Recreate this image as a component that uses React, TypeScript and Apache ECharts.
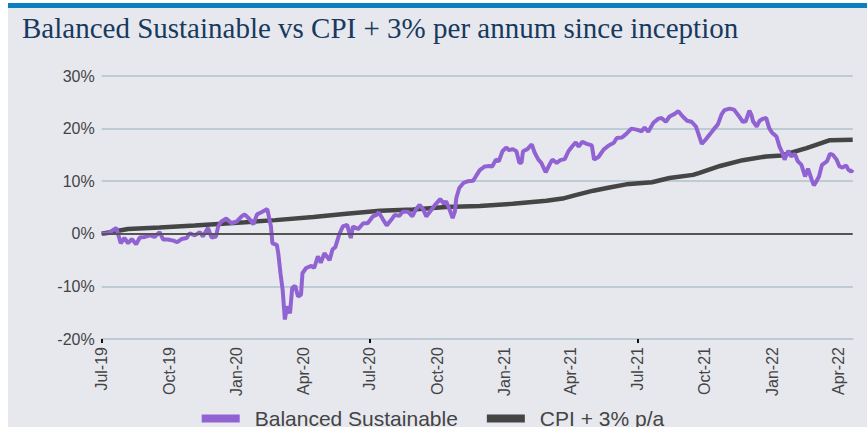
import React, { useEffect, useRef } from "react";
import * as echarts from "echarts";

const seriesNames = ["Balanced Sustainable", "CPI + 3% p/a"];

const tickDates = [
  "2019-07-01", "2019-10-01", "2020-01-01", "2020-04-01", "2020-07-01", "2020-10-01",
  "2021-01-01", "2021-04-01", "2021-07-01", "2021-10-01", "2022-01-01", "2022-04-01",
];
const tickLabels = [
  "Jul-19", "Oct-19", "Jan-20", "Apr-20", "Jul-20", "Oct-20",
  "Jan-21", "Apr-21", "Jul-21", "Oct-21", "Jan-22", "Apr-22",
];
const majorTickDates = ["2019-07-01", "2020-07-01", "2021-07-01"];

const balanced: [string, number][] = [
  ["2019-07-01", 0.0], ["2019-07-10", 0.1], ["2019-07-21", 1.1], ["2019-07-27", -1.8], ["2019-08-01", -0.8],
  ["2019-08-06", -1.8], ["2019-08-11", -1.0], ["2019-08-17", -2.0], ["2019-08-22", -0.7], ["2019-08-29", -0.6],
  ["2019-09-05", -0.3], ["2019-09-11", -0.6], ["2019-09-18", 0.3], ["2019-09-23", -1.1], ["2019-09-29", -1.1],
  ["2019-10-07", -1.3], ["2019-10-12", -1.6], ["2019-10-18", -1.0], ["2019-10-25", -0.8], ["2019-10-29", 0.1],
  ["2019-11-05", -0.3], ["2019-11-12", 0.3], ["2019-11-16", -0.5], ["2019-11-23", 1.1], ["2019-11-28", -0.7],
  ["2019-12-04", -0.5], ["2019-12-07", 1.4], ["2019-12-11", 2.3], ["2019-12-18", 2.9], ["2019-12-25", 2.0],
  ["2020-01-01", 2.3], ["2020-01-08", 3.3], ["2020-01-12", 3.7], ["2020-01-18", 2.9], ["2020-01-24", 1.8],
  ["2020-01-29", 3.7], ["2020-02-04", 4.1], ["2020-02-12", 4.7], ["2020-02-17", 1.4], ["2020-02-19", -1.8],
  ["2020-02-25", -2.1], ["2020-02-27", -3.7], ["2020-03-01", -7.5], ["2020-03-04", -10.7], ["2020-03-07", -16.3],
  ["2020-03-10", -13.8], ["2020-03-14", -15.1], ["2020-03-17", -10.3], ["2020-03-21", -9.9], ["2020-03-25", -11.9],
  ["2020-03-29", -11.6], ["2020-03-31", -7.5], ["2020-04-05", -6.5], ["2020-04-12", -6.1], ["2020-04-16", -6.5],
  ["2020-04-21", -4.3], ["2020-04-25", -5.5], ["2020-04-30", -3.7], ["2020-05-07", -5.0], ["2020-05-11", -3.0],
  ["2020-05-15", -2.5], ["2020-05-20", -0.2], ["2020-05-25", 1.4], ["2020-05-31", 1.7], ["2020-06-05", -0.8],
  ["2020-06-08", 1.4], ["2020-06-15", 0.9], ["2020-06-22", 2.0], ["2020-06-28", 2.0], ["2020-07-05", 3.3],
  ["2020-07-10", 3.6], ["2020-07-13", 4.1], ["2020-07-19", 2.7], ["2020-07-24", 1.6], ["2020-07-31", 2.8],
  ["2020-08-04", 3.6], ["2020-08-10", 3.4], ["2020-08-15", 4.2], ["2020-08-22", 4.2], ["2020-08-28", 3.3],
  ["2020-09-02", 4.7], ["2020-09-07", 5.5], ["2020-09-12", 4.6], ["2020-09-16", 3.3], ["2020-09-21", 4.2],
  ["2020-09-28", 5.5], ["2020-10-05", 6.6], ["2020-10-10", 5.7], ["2020-10-13", 6.2], ["2020-10-17", 4.9],
  ["2020-10-22", 3.0], ["2020-10-25", 4.2], ["2020-10-27", 6.8], ["2020-10-31", 8.7], ["2020-11-06", 9.7],
  ["2020-11-12", 10.0], ["2020-11-19", 10.1], ["2020-11-23", 11.0], ["2020-11-28", 12.1], ["2020-12-05", 12.8],
  ["2020-12-11", 12.9], ["2020-12-15", 12.8], ["2020-12-20", 14.1], ["2020-12-24", 13.8], ["2020-12-29", 15.7],
  ["2021-01-03", 16.4], ["2021-01-07", 15.9], ["2021-01-12", 16.1], ["2021-01-17", 15.7], ["2021-01-21", 13.5],
  ["2021-01-24", 13.5], ["2021-01-26", 15.7], ["2021-02-01", 16.1], ["2021-02-07", 17.0], ["2021-02-11", 15.4],
  ["2021-02-16", 14.1], ["2021-02-20", 13.5], ["2021-02-26", 11.7], ["2021-03-03", 13.1], ["2021-03-07", 14.1],
  ["2021-03-13", 13.5], ["2021-03-18", 14.0], ["2021-03-24", 14.2], ["2021-03-29", 15.7], ["2021-04-03", 16.6],
  ["2021-04-08", 17.4], ["2021-04-12", 16.6], ["2021-04-17", 17.5], ["2021-04-23", 17.1], ["2021-04-30", 16.8],
  ["2021-05-03", 14.1], ["2021-05-09", 14.6], ["2021-05-16", 16.0], ["2021-05-23", 16.8], ["2021-05-30", 17.3],
  ["2021-06-03", 18.2], ["2021-06-10", 18.3], ["2021-06-16", 19.0], ["2021-06-23", 20.0], ["2021-06-30", 19.8],
  ["2021-07-07", 19.5], ["2021-07-11", 20.2], ["2021-07-16", 19.4], ["2021-07-23", 21.1], ["2021-07-30", 21.9],
  ["2021-08-03", 22.0], ["2021-08-09", 21.3], ["2021-08-14", 22.3], ["2021-08-21", 22.8], ["2021-08-26", 23.3],
  ["2021-09-01", 22.3], ["2021-09-07", 21.5], ["2021-09-13", 21.3], ["2021-09-19", 20.4], ["2021-09-22", 19.2],
  ["2021-09-27", 17.1], ["2021-10-01", 17.7], ["2021-10-08", 18.9], ["2021-10-13", 19.8], ["2021-10-19", 20.8],
  ["2021-10-24", 22.7], ["2021-10-28", 23.5], ["2021-11-04", 23.8], ["2021-11-10", 23.6], ["2021-11-16", 22.5],
  ["2021-11-22", 21.3], ["2021-11-26", 21.4], ["2021-12-01", 23.4], ["2021-12-04", 22.5], ["2021-12-06", 21.4],
  ["2021-12-11", 20.4], ["2021-12-15", 21.5], ["2021-12-20", 21.9], ["2021-12-24", 22.0], ["2021-12-28", 20.1],
  ["2022-01-01", 19.2], ["2022-01-07", 18.5], ["2022-01-11", 16.6], ["2022-01-15", 15.4], ["2022-01-18", 14.1],
  ["2022-01-23", 15.8], ["2022-01-27", 14.7], ["2022-02-01", 15.2], ["2022-02-05", 13.8], ["2022-02-10", 13.1],
  ["2022-02-15", 10.9], ["2022-02-19", 12.4], ["2022-02-24", 10.3], ["2022-02-27", 9.2], ["2022-03-03", 10.1],
  ["2022-03-06", 10.9], ["2022-03-10", 13.1], ["2022-03-14", 13.5], ["2022-03-17", 13.8], ["2022-03-21", 15.2],
  ["2022-03-25", 15.0], ["2022-03-30", 14.1], ["2022-04-03", 12.8], ["2022-04-07", 12.6], ["2022-04-12", 13.0],
  ["2022-04-15", 12.2], ["2022-04-19", 11.8], ["2022-04-21", 12.2],
];

const cpi: [string, number][] = [
  ["2019-07-01", 0.0], ["2019-08-06", 0.9], ["2019-09-18", 1.2], ["2019-11-05", 1.6], ["2020-01-13", 2.2],
  ["2020-02-23", 2.6], ["2020-04-15", 3.2], ["2020-05-30", 3.8], ["2020-07-15", 4.4], ["2020-08-29", 4.6],
  ["2020-10-13", 5.1], ["2020-11-28", 5.3], ["2021-01-12", 5.7], ["2021-02-27", 6.3], ["2021-03-21", 6.7],
  ["2021-04-09", 7.4], ["2021-05-02", 8.2], ["2021-05-24", 8.8], ["2021-06-16", 9.4], ["2021-07-21", 9.8],
  ["2021-08-14", 10.6], ["2021-09-15", 11.2], ["2021-09-24", 11.6], ["2021-10-22", 12.9], ["2021-11-22", 14.0],
  ["2021-12-24", 14.7], ["2022-01-14", 14.9], ["2022-02-17", 16.3], ["2022-03-21", 17.8], ["2022-04-21", 17.9],
];

const titleText = "Balanced Sustainable vs CPI + 3% per annum since inception";

function ts(d: string): number {
  const [y, m, dd] = d.split("-").map(Number);
  return Date.UTC(y, m - 1, dd);
}

export default function App() {
  const ref = useRef<HTMLDivElement>(null);

  useEffect(() => {
    document.body.style.margin = "0";
    if (!ref.current) return;
    const chart = echarts.init(ref.current, undefined, { renderer: "svg" });
    const tickTs = tickDates.map(ts);
    const option: any = {
      animation: false,
      backgroundColor: "#e7e8ee",
      textStyle: { fontFamily: "'Liberation Sans', Arial, sans-serif" },
      graphic: [
        { type: "rect", shape: { x: 0, y: 0, width: 859, height: 3 }, style: { fill: "#ffffff" }, silent: true },
        { type: "rect", shape: { x: 0, y: 3, width: 859, height: 5 }, style: { fill: "#0b7fc0" }, silent: true },
        {
          type: "text",
          x: 14,
          y: 28,
          style: {
            text: titleText,
            fontFamily: "'Liberation Serif', serif",
            fontSize: 29,
            fill: "#173a5e",
            verticalAlign: "middle",
          },
          silent: true,
        },
      ],
      grid: { left: 93.7, right: 14.3, top: 76, bottom: 88 },
      legend: {
        data: seriesNames,
        left: 188.7,
        top: 403,
        icon: "rect",
        itemWidth: 38,
        itemHeight: 8,
        itemGap: 29,
        textStyle: { fontSize: 21, color: "#444", padding: [0, 0, 0, 10] },
      },
      xAxis: {
        type: "value",
        min: ts("2019-07-01"),
        max: ts("2022-04-21"),
        axisLine: { show: true, onZero: false, lineStyle: { color: "#bccbd4", width: 2 } },
        axisTick: {
          show: true,
          customValues: majorTickDates.map(ts),
          length: 4,
          lineStyle: { color: "#111", width: 2 },
        },
        axisLabel: {
          customValues: tickTs,
          rotate: 90,
          fontSize: 16,
          color: "#444",
          margin: 8,
          hideOverlap: false,
          formatter: (v: number) => {
            const i = tickTs.indexOf(v);
            return i >= 0 ? tickLabels[i] : "";
          },
        },
        splitLine: { show: false },
      },
      yAxis: {
        type: "value",
        min: -20,
        max: 30,
        interval: 10,
        axisLine: { show: false },
        axisTick: { show: false },
        axisLabel: { formatter: "{value}%", fontSize: 16, color: "#444", margin: 7 },
        splitLine: { lineStyle: { color: "#bccbd4", width: 2 } },
      },
      series: [
        {
          name: seriesNames[1],
          type: "line",
          data: cpi.map(([d, v]) => [ts(d), v]),
          showSymbol: false,
          itemStyle: { color: "#454545" },
          lineStyle: { color: "#454545", width: 4.5 },
          markLine: {
            silent: true,
            symbol: ["none", "none"],
            label: { show: false },
            lineStyle: { color: "#555", width: 2, type: "solid" },
            data: [{ yAxis: 0 }],
          },
          z: 2,
        },
        {
          name: seriesNames[0],
          type: "line",
          data: balanced.map(([d, v]) => [ts(d), v]),
          showSymbol: false,
          itemStyle: { color: "#9163d2" },
          lineStyle: { color: "#9163d2", width: 4 },
          z: 3,
        },
      ],
    };
    chart.setOption(option);
    return () => chart.dispose();
  }, []);

  return (
    <div style={{ position: "relative", width: 867, height: 427, background: "#fff", overflow: "hidden" }}>
      <div ref={ref} style={{ position: "absolute", left: 8, top: 0, width: 859, height: 427 }} />
    </div>
  );
}
